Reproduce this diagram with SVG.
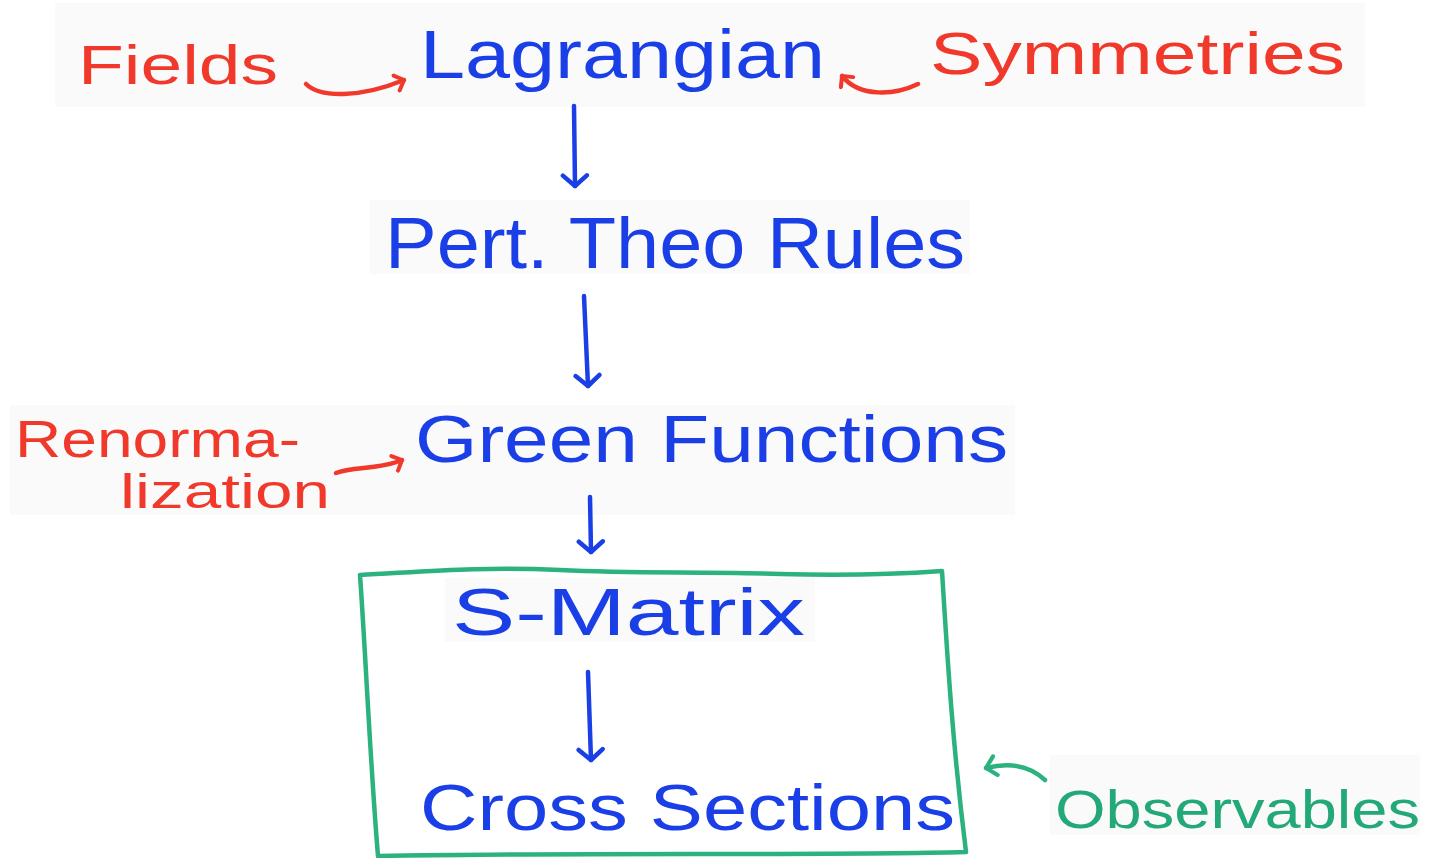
<svg xmlns="http://www.w3.org/2000/svg" width="1434" height="858" viewBox="0 0 1434 858">
  <defs>
    <style>
      .t { font-family: "Liberation Sans", "DejaVu Sans", sans-serif; }
      .blue { fill: #1b3fe6; }
      .red { fill: #f0392b; }
      .green { fill: #23a878; }
      .ln { fill: none; stroke-width: 4.5; stroke-linecap: round; stroke-linejoin: round; }
      .lb { stroke: #1b3fe6; }
      .lr { stroke: #f0392b; }
      .lg { stroke: #2bb27e; }
      .patch { fill: #fafafa; }
    </style>
    <marker id="hb" viewBox="0 0 20 20" refX="10" refY="10" markerWidth="30" markerHeight="30" markerUnits="userSpaceOnUse" orient="auto">
      <path d="M3,2 L10,10 L3,18" fill="none" stroke="#1b3fe6" stroke-width="3" stroke-linecap="round" stroke-linejoin="round"/>
    </marker>
    <marker id="hr" viewBox="0 0 20 20" refX="10" refY="10" markerWidth="20" markerHeight="20" markerUnits="userSpaceOnUse" orient="auto">
      <path d="M2,2 L10,10 L2,18" fill="none" stroke="#f0392b" stroke-width="4" stroke-linecap="round" stroke-linejoin="round"/>
    </marker>
    <marker id="hg" viewBox="0 0 20 20" refX="10" refY="10" markerWidth="24" markerHeight="24" markerUnits="userSpaceOnUse" orient="auto">
      <path d="M2,2 L10,10 L2,18" fill="none" stroke="#2bb27e" stroke-width="3.5" stroke-linecap="round" stroke-linejoin="round"/>
    </marker>
  </defs>

  <rect width="1434" height="858" fill="#ffffff"/>

  <!-- faint paper tone behind the written lines -->
  <g id="paper">
    <rect class="patch" x="55" y="3" width="1310" height="104"/>
    <rect class="patch" x="370" y="200" width="600" height="74"/>
    <rect class="patch" x="10" y="405" width="1005" height="110"/>
    <rect class="patch" x="445" y="578" width="370" height="64"/>
    <rect class="patch" x="1050" y="755" width="370" height="80"/>
  </g>

  <!-- green frame around the observable quantities -->
  <g id="frame">
    <path class="ln lg" d="M360,575 C420,572 480,566 560,570 C640,574 700,571 780,574 C850,576 900,574 942,571 C947,650 952,740 966,852 C800,856 600,852 378,856 C370,760 366,660 360,575 Z"/>
  </g>

  <g id="connectors">
    <!-- Fields -> Lagrangian -->
    <path class="ln lr" d="M306,84 C320,98 360,98 404,80" marker-end="url(#hr)"/>
    <!-- Symmetries -> Lagrangian -->
    <path class="ln lr" d="M918,84 C895,95 860,98 842,76" marker-end="url(#hr)"/>
    <!-- Lagrangian -> Pert. Theo Rules -->
    <path class="ln lb" d="M574,106 L575,186" marker-end="url(#hb)"/>
    <!-- Pert. Theo Rules -> Green Functions -->
    <path class="ln lb" d="M584,296 L588,386" marker-end="url(#hb)"/>
    <!-- Renormalization -> Green Functions -->
    <path class="ln lr" d="M336,473 C352,466 380,470 402,460" marker-end="url(#hr)"/>
    <!-- Green Functions -> S-Matrix -->
    <path class="ln lb" d="M590,497 L591,552" marker-end="url(#hb)"/>
    <!-- S-Matrix -> Cross Sections -->
    <path class="ln lb" d="M588,672 L591,760" marker-end="url(#hb)"/>
    <!-- Observables -> frame -->
    <path class="ln lg" d="M1045,780 C1030,766 1010,762 986,768" marker-end="url(#hg)"/>
  </g>

  <g id="fields"><text class="t red" x="78" y="84" font-size="56" textLength="200" lengthAdjust="spacingAndGlyphs">Fields</text></g>
  <g id="lagrangian"><text class="t blue" x="420" y="78" font-size="68" textLength="405" lengthAdjust="spacingAndGlyphs">Lagrangian</text></g>
  <g id="symmetries"><text class="t red" x="930" y="74" font-size="60" textLength="415" lengthAdjust="spacingAndGlyphs">Symmetries</text></g>
  <g id="rules"><text class="t blue" x="385" y="268" font-size="72" textLength="580" lengthAdjust="spacingAndGlyphs">Pert. Theo Rules</text></g>
  <g id="renormalization">
    <text class="t red" x="15" y="457" font-size="52" textLength="285" lengthAdjust="spacingAndGlyphs">Renorma-</text>
    <text class="t red" x="120" y="508" font-size="48" textLength="210" lengthAdjust="spacingAndGlyphs">lization</text>
  </g>
  <g id="green-functions"><text class="t blue" x="415" y="462" font-size="66" textLength="593" lengthAdjust="spacingAndGlyphs">Green Functions</text></g>
  <g id="s-matrix"><text class="t blue" x="452" y="635" font-size="66" textLength="353" lengthAdjust="spacingAndGlyphs">S-Matrix</text></g>
  <g id="cross-sections"><text class="t blue" x="420" y="830" font-size="64" textLength="535" lengthAdjust="spacingAndGlyphs">Cross Sections</text></g>
  <g id="observables"><text class="t green" x="1055" y="828" font-size="54" textLength="365" lengthAdjust="spacingAndGlyphs">Observables</text></g>
</svg>
